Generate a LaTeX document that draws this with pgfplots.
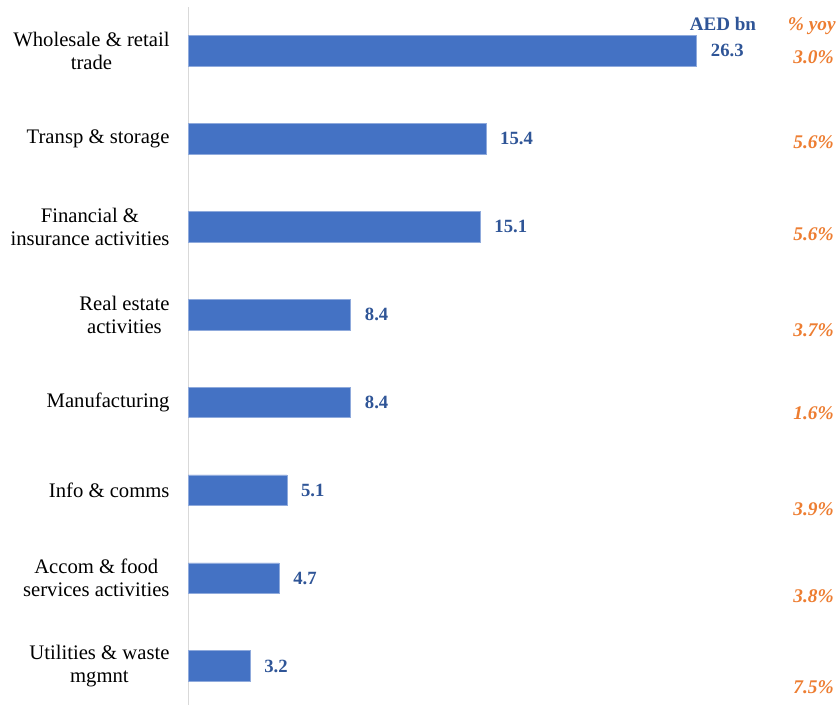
\documentclass[border=0pt]{standalone}
\usepackage{pgfplots}
\pgfplotsset{compat=1.18}
\usepackage{fontspec}
\setmainfont{Liberation Serif}
\definecolor{barblue}{HTML}{4472C4}
\definecolor{lblblue}{HTML}{2F5597}
\definecolor{yoyorange}{HTML}{ED7D31}
\definecolor{axgray}{HTML}{D9D9D9}
\begin{document}
\begin{tikzpicture}
\begin{axis}[
 name=ax,
 scale only axis,
 width=487.3pt, height=523.5pt,
 xmin=0, xmax=33.61,
 ymin=-0.5, ymax=7.444,
 y dir=reverse,
 axis x line=none,
 axis y line=left,
 y axis line style={draw=axgray, line width=0.75pt, -},
 ytick={0,1,2,3,4,5,6,7},
 yticklabels={{Wholesale \& retail\\trade},{Transp \& storage},{Financial \&\\insurance activities},{Real estate\\activities},{Manufacturing},{Info \& comms},{Accom \& food\\services activities},{Utilities \& waste\\mgmnt}},
 major tick length=0pt,
 ytick style={draw=none},
 yticklabel style={font=\fontsize{15.5}{17.3}\selectfont, align=center, inner sep=0pt, xshift=-13.9pt},
 clip=false,
 /pgf/number format/assume math mode=true,
]
\addplot[xbar, bar width=22.9pt, fill=barblue, draw=barblue!60!white, line width=0.4pt,
  point meta=x,
  nodes near coords={\pgfmathprintnumber[fixed,fixed zerofill,precision=1]{\pgfplotspointmeta}},
  every node near coord/.append style={anchor=west, inner sep=0pt, xshift=10.5pt, font=\fontsize{14}{16}\selectfont\bfseries, text=lblblue}]
 coordinates {(26.3,0) (15.4,1) (15.1,2) (8.4,3) (8.4,4) (5.1,5) (4.7,6) (3.2,7)};
\addplot[draw=none, mark=none, point meta=explicit symbolic,
  nodes near coords, nodes near coords align=center,
  every node near coord/.append style={anchor=east, inner sep=0pt, font=\fontsize{14.5}{16}\selectfont\bfseries\itshape, text=yoyorange}]
 coordinates {(33.40,0.068)[3.0\%] (33.40,1.036)[5.6\%] (33.40,2.083)[5.6\%] (33.40,3.176)[3.7\%] (33.40,4.12)[1.6\%] (33.40,5.21)[3.9\%] (33.40,6.21)[3.8\%] (33.40,7.24)[7.5\%]};
\node[anchor=base, inner sep=0pt, font=\fontsize{14.3}{16}\selectfont\bfseries, text=lblblue] at (axis cs:27.66,-0.228) {AED bn};
\node[anchor=base east, inner sep=0pt, font=\fontsize{14.5}{16}\selectfont\bfseries\itshape, text=yoyorange] at (axis cs:33.50,-0.228) {\% yoy};
\end{axis}
\pgfresetboundingbox
\path[use as bounding box] ([xshift=-141.2pt]ax.south west) rectangle ([yshift=5.25pt]ax.north east);
\end{tikzpicture}
\end{document}
